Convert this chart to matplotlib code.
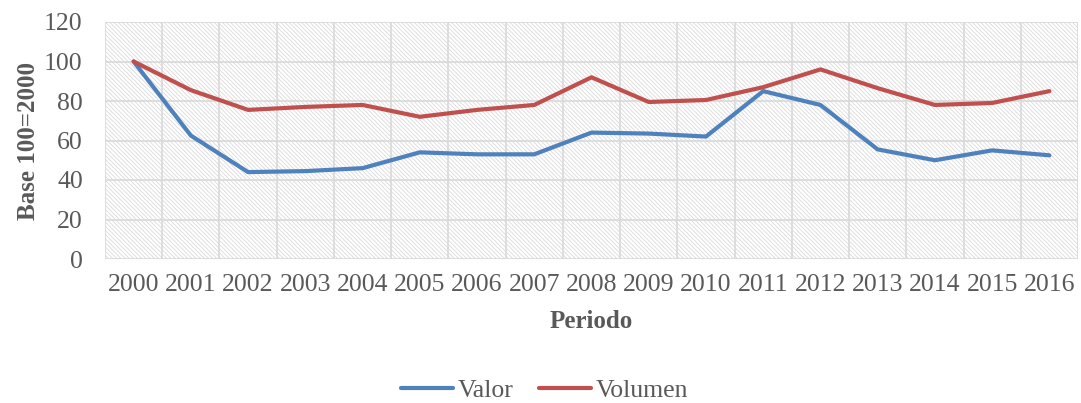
import numpy as np
import matplotlib
matplotlib.use("Agg")
import matplotlib.pyplot as plt

# Datos (Base 100 = 2000)
anios = [str(a) for a in range(2000, 2017)]
valor = [100, 62.5, 44, 44.5, 46, 54, 53, 53, 64, 63.5, 62, 85, 78, 55.5, 50, 55, 52.5]
volumen = [100, 85.5, 75.5, 77, 78, 72, 75.5, 78, 92, 79.5, 80.5, 87, 96, 86.5, 78, 79, 85]

plt.rcParams['font.family'] = ['Liberation Serif', 'DejaVu Serif']
plt.rcParams['hatch.linewidth'] = 0.6
gris = '#595959'

fig = plt.figure(figsize=(10.81, 4.03), dpi=100)
ax = fig.add_axes([105 / 1081, 1 - 259 / 403, (1078 - 105) / 1081, (259 - 22) / 403])

x = np.arange(len(anios))

# fondo rayado
ax.add_patch(plt.Rectangle((0, 0), 1, 1, transform=ax.transAxes, facecolor='white',
                           edgecolor='#dadada', hatch='\\' * 8, linewidth=0, zorder=0))

ax.plot(x, valor, color='#4F81BD', linewidth=3.0, label='Valor', zorder=3,
        solid_joinstyle='round', solid_capstyle='round')
ax.plot(x, volumen, color='#C0504D', linewidth=3.0, label='Volumen', zorder=3,
        solid_joinstyle='round', solid_capstyle='round')

ax.set_xlim(-0.5, len(anios) - 0.5)
ax.set_ylim(0, 120)
ax.set_yticks(range(0, 121, 20))
ax.set_xticks(x)
ax.set_xticklabels(anios)

# rejilla: verticales entre categorías, horizontales en cada marca
for xv in np.arange(-0.5, len(anios), 1):
    ax.axvline(xv, color='#d9d9d9', linewidth=1.2, zorder=1)
for yv in range(0, 121, 20):
    ax.axhline(yv, color='#d9d9d9', linewidth=1.2, zorder=1)

for s in ax.spines.values():
    s.set_visible(False)
ax.tick_params(axis='both', length=0, labelsize=18.5, labelcolor=gris)
ax.tick_params(axis='y', pad=16)
ax.tick_params(axis='x', pad=11)

ax.set_ylabel('Base 100=2000', fontsize=18, fontweight='bold', color=gris, labelpad=3)
ax.set_xlabel('Periodo', fontsize=18, fontweight='bold', color=gris, labelpad=10)

ax.legend(loc='center', bbox_to_anchor=(0.452, -0.555), ncol=2, frameon=False,
          fontsize=18.5, labelcolor=gris, handlelength=2.0, handletextpad=0.2,
          columnspacing=1.0, borderpad=0.2)

fig.savefig('out.png', dpi=100)
